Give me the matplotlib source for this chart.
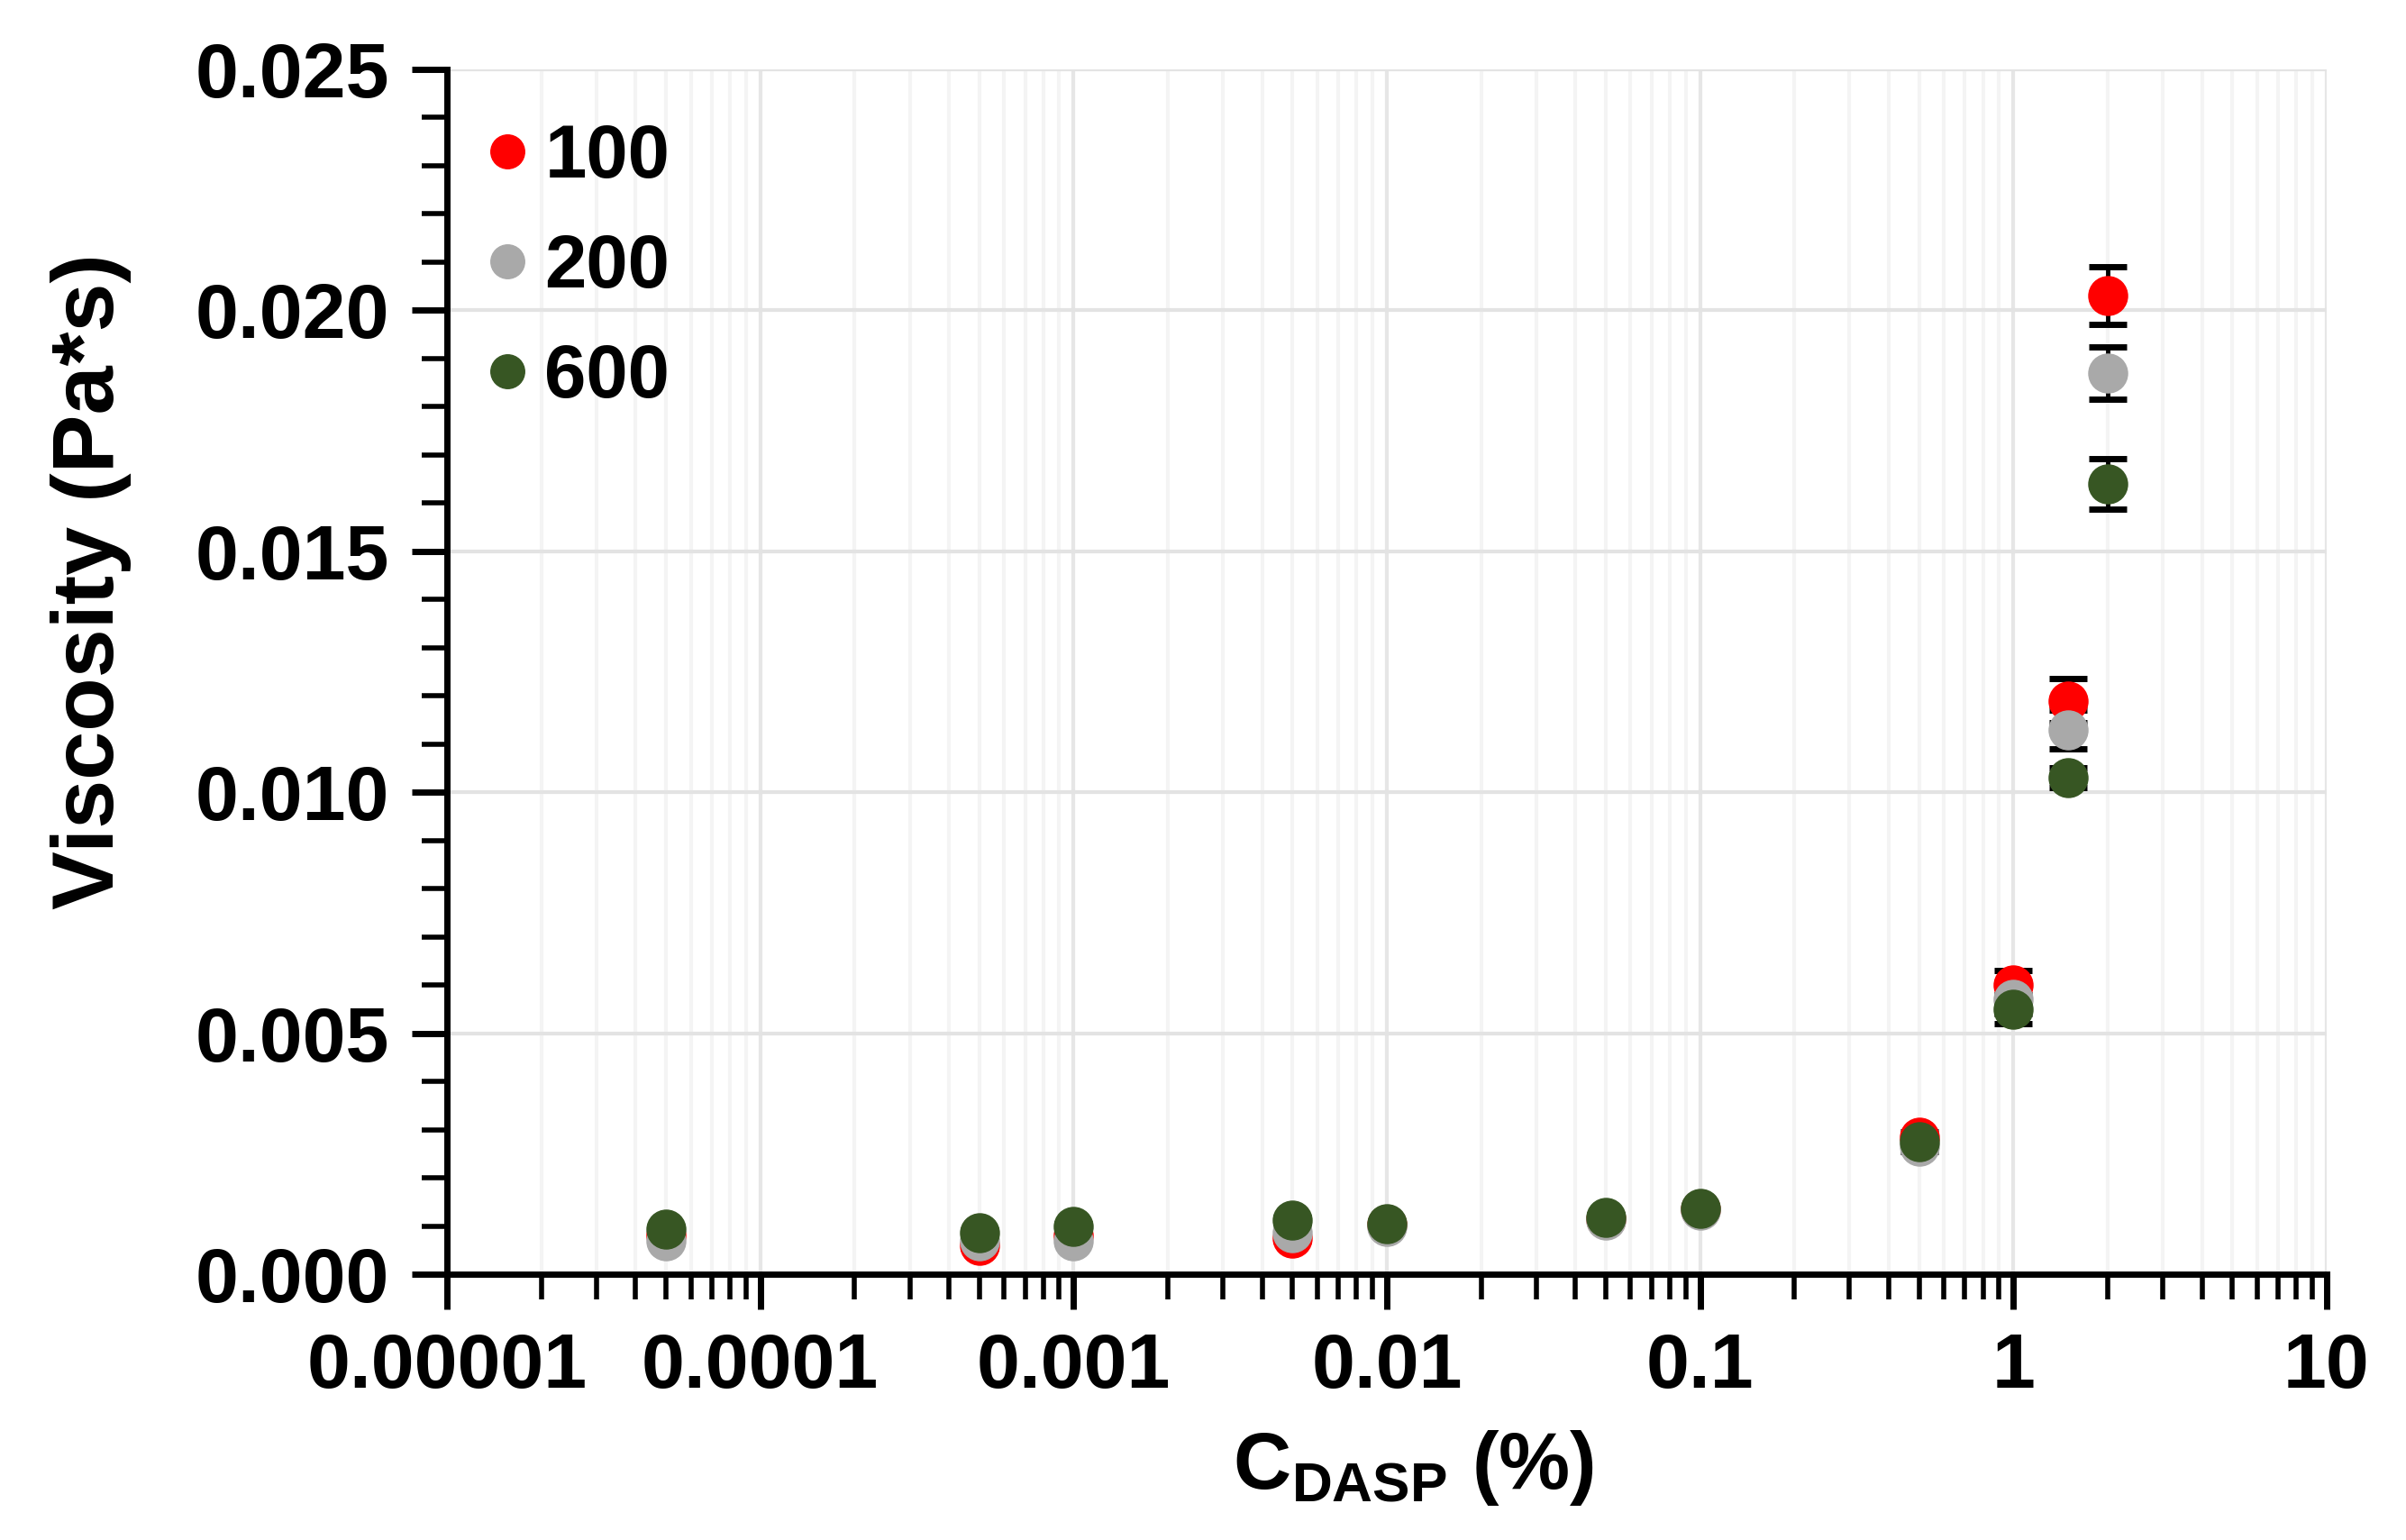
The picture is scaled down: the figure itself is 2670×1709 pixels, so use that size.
import matplotlib
matplotlib.use("Agg")
import matplotlib.pyplot as plt
from matplotlib.lines import Line2D
from matplotlib.ticker import LogLocator, MultipleLocator, FormatStrFormatter, FixedFormatter, NullFormatter

plt.rcParams['font.family'] = ['Liberation Sans', 'DejaVu Sans']
plt.rcParams['font.weight'] = 'bold'
plt.rcParams['mathtext.fontset'] = 'custom'
plt.rcParams['mathtext.rm'] = 'Liberation Sans:bold'
plt.rcParams['mathtext.bf'] = 'Liberation Sans:bold'

conc = [0.00005, 0.0005, 0.001, 0.005, 0.01, 0.05, 0.1, 0.5, 1, 1.5, 2]

visc_100 = [0.0008, 0.0006, 0.0008, 0.00074, 0.00102, 0.00115, 0.00135, 0.00285, 0.0060, 0.0119, 0.0203]
visc_200 = [0.0007, 0.0007, 0.0007, 0.00086, 0.00100, 0.00112, 0.00132, 0.00265, 0.0057, 0.0113, 0.0187]
visc_600 = [0.00093, 0.00086, 0.00099, 0.00112, 0.00104, 0.00118, 0.00137, 0.00275, 0.0055, 0.0103, 0.0164]

err_100 = [0.00005, 0.00005, 0.00005, 0.00005, 0.00005, 0.00005, 0.00005, 0.0001, 0.0003, 0.00045, 0.0006]
err_200 = [0.00005, 0.00005, 0.00005, 0.00005, 0.00005, 0.00005, 0.00005, 0.0001, 0.0003, 0.0004, 0.00054]
err_600 = [0.00005, 0.00005, 0.00005, 0.00005, 0.00005, 0.00005, 0.00005, 0.0001, 0.0003, 0.0002, 0.00052]

labels = ['100', '200', '600']
colors = ['#ff0000', '#a9a9a9', '#375623']

x_ticks = [0.00001, 0.0001, 0.001, 0.01, 0.1, 1, 10]
x_tick_labels = ['0.00001', '0.0001', '0.001', '0.01', '0.1', '1', '10']

fig = plt.figure(figsize=(26.7, 17.09), dpi=100)
ax = fig.add_axes([0.1858, 0.1726, 0.7812, 0.7824])

series = [visc_100, visc_200, visc_600]
errs = [err_100, err_200, err_600]
for vals, e, c in zip(series, errs, colors):
    ax.errorbar(conc, vals, yerr=e, fmt='o', color=c, markersize=31, markeredgecolor=c,
                ecolor='black', elinewidth=3.5, capsize=15, capthick=5, zorder=3)

ax.set_xscale('log')
ax.set_xlim(0.00001, 10)
ax.set_ylim(0, 0.025)

ax.set_xticks(x_ticks)
ax.xaxis.set_minor_locator(LogLocator(base=10, subs=range(2, 10)))
ax.xaxis.set_major_formatter(FixedFormatter(x_tick_labels))
ax.xaxis.set_minor_formatter(NullFormatter())

ax.yaxis.set_major_locator(MultipleLocator(0.005))
ax.yaxis.set_minor_locator(MultipleLocator(0.001))
ax.yaxis.set_major_formatter(FormatStrFormatter('%.3f'))

ax.grid(True, which='major', axis='y', color='#e3e3e3', linewidth=3, zorder=0)
ax.grid(True, which='major', axis='x', color='#e6e6e6', linewidth=3, zorder=0)
ax.grid(True, which='minor', axis='x', color='#f4f4f4', linewidth=3, zorder=0)
ax.set_axisbelow(True)

for side in ['top', 'right']:
    ax.spines[side].set_visible(False)
for side in ['left', 'bottom']:
    ax.spines[side].set_linewidth(5)
    ax.spines[side].set_color('black')

ax.tick_params(axis='both', which='major', direction='out', length=28, width=5, labelsize=62)
ax.tick_params(axis='both', which='minor', direction='out', length=20, width=4)
ax.tick_params(axis='y', which='major', pad=18)
ax.tick_params(axis='x', which='major', pad=18)
for t in ax.get_xticklabels() + ax.get_yticklabels():
    t.set_fontweight('bold')

ax.set_ylabel('Viscosity (Pa*s)', fontsize=70, fontweight='bold')
ax.yaxis.set_label_coords(-0.168, 0.575)
ax.set_xlabel(r'C$_{\mathrm{DASP}}$ (%)', fontsize=64, fontweight='bold')
ax.xaxis.set_label_coords(0.514, -0.128)

handles = [Line2D([], [], linestyle='none', marker='o', markersize=27, color=c, markeredgecolor=c)
           for c in colors]
ax.legend(handles, labels, loc='upper left', bbox_to_anchor=(-0.016, 1.012), frameon=False,
          fontsize=60, handlelength=0.6, handletextpad=0.2, labelspacing=0.53)

fig.savefig('out.png', dpi=100)
